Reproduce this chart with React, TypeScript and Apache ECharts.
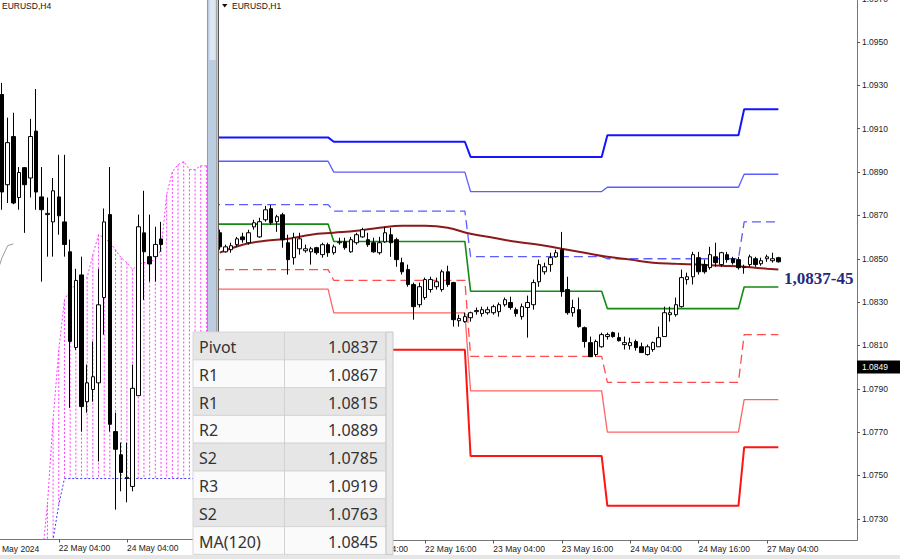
import React, { useEffect, useRef } from "react";
import * as echarts from "echarts";

// ---------- H1 panel (right) ----------
const h1DayDates = [21, 22, 23, 24, 27];
const h1FirstBar = 4;
// [open, close, low, high]
const h1Candles: number[][] = [
  [1.0862, 1.08555, 1.08542, 1.08634],
  [1.08532, 1.08555, 1.08528, 1.08565],
  [1.08542, 1.0856, 1.08528, 1.08574],
  [1.08565, 1.08592, 1.08555, 1.08601],
  [1.08601, 1.08588, 1.08574, 1.0862],
  [1.08574, 1.0862, 1.08565, 1.08634],
  [1.08647, 1.08666, 1.08634, 1.0868],
  [1.08601, 1.08671, 1.08597, 1.08689],
  [1.0868, 1.08726, 1.08671, 1.08744],
  [1.08731, 1.08666, 1.08657, 1.08749],
  [1.08671, 1.08694, 1.08624, 1.08703],
  [1.08703, 1.08588, 1.08551, 1.08712],
  [1.08574, 1.08496, 1.08427, 1.08611],
  [1.08505, 1.08597, 1.08473, 1.0862],
  [1.08546, 1.08592, 1.08519, 1.0862],
  [1.08537, 1.08546, 1.08528, 1.08565],
  [1.08532, 1.08546, 1.08473, 1.08555],
  [1.08551, 1.08528, 1.08519, 1.08555],
  [1.08519, 1.08565, 1.08505, 1.08574],
  [1.08565, 1.08528, 1.08509, 1.08574],
  [1.08528, 1.08555, 1.08519, 1.08565],
  [1.08574, 1.08578, 1.08565, 1.08597],
  [1.08578, 1.08551, 1.08542, 1.08597],
  [1.08532, 1.08588, 1.08528, 1.08601],
  [1.08574, 1.08611, 1.08565, 1.0862],
  [1.08601, 1.08634, 1.08597, 1.08643],
  [1.08588, 1.08565, 1.08555, 1.0862],
  [1.08574, 1.08532, 1.08528, 1.08597],
  [1.08528, 1.08574, 1.08519, 1.08601],
  [1.08578, 1.0862, 1.08574, 1.08647],
  [1.08611, 1.08574, 1.08509, 1.08643],
  [1.08588, 1.08496, 1.08463, 1.08597],
  [1.08482, 1.0844, 1.08427, 1.08505],
  [1.0845, 1.08381, 1.08371, 1.08473],
  [1.08381, 1.08279, 1.08219, 1.0839],
  [1.08288, 1.08371, 1.08275, 1.0839],
  [1.08321, 1.08404, 1.08311, 1.08413],
  [1.08358, 1.08404, 1.08344, 1.08417],
  [1.08371, 1.08394, 1.08358, 1.08413],
  [1.08358, 1.0844, 1.08348, 1.0845],
  [1.0844, 1.08381, 1.08371, 1.08468],
  [1.0839, 1.08219, 1.08187, 1.08394],
  [1.08214, 1.08224, 1.08187, 1.08242],
  [1.0821, 1.08233, 1.08205, 1.08251],
  [1.08228, 1.08251, 1.0821, 1.08256],
  [1.08256, 1.08261, 1.08242, 1.08275],
  [1.08247, 1.08265, 1.08233, 1.08279],
  [1.08251, 1.08265, 1.08242, 1.08279],
  [1.08251, 1.08279, 1.08242, 1.08288],
  [1.08256, 1.08288, 1.08233, 1.08298],
  [1.08288, 1.08311, 1.08279, 1.08321],
  [1.08298, 1.08275, 1.08265, 1.08325],
  [1.08265, 1.08247, 1.08233, 1.08275],
  [1.08233, 1.08279, 1.08219, 1.08293],
  [1.08275, 1.08298, 1.08136, 1.0833],
  [1.08288, 1.0839, 1.08265, 1.08404],
  [1.08394, 1.08473, 1.08371, 1.08496],
  [1.0844, 1.08463, 1.08427, 1.08482],
  [1.08473, 1.08505, 1.0844, 1.08528],
  [1.08509, 1.08528, 1.08505, 1.08542],
  [1.08542, 1.08348, 1.08325, 1.08624],
  [1.08358, 1.08251, 1.08242, 1.08417],
  [1.08251, 1.08275, 1.08233, 1.08311],
  [1.08265, 1.08187, 1.08182, 1.08321],
  [1.08182, 1.08118, 1.0809, 1.08187],
  [1.08113, 1.08048, 1.08048, 1.08141],
  [1.08058, 1.08118, 1.08048, 1.08127],
  [1.08094, 1.0815, 1.0809, 1.08159],
  [1.08141, 1.0815, 1.08127, 1.08159],
  [1.08159, 1.08141, 1.08136, 1.08164],
  [1.08136, 1.08122, 1.08118, 1.08159],
  [1.08104, 1.08113, 1.08081, 1.08141],
  [1.08099, 1.08113, 1.08081, 1.08136],
  [1.08118, 1.0809, 1.08076, 1.08127],
  [1.08094, 1.08067, 1.08067, 1.08113],
  [1.08058, 1.08094, 1.08053, 1.08104],
  [1.08081, 1.08113, 1.08071, 1.08118],
  [1.08094, 1.08136, 1.08094, 1.08187],
  [1.08141, 1.08251, 1.08141, 1.08279],
  [1.08242, 1.08251, 1.0821, 1.08279],
  [1.08242, 1.08288, 1.08233, 1.08321],
  [1.08279, 1.08413, 1.08275, 1.0845],
  [1.08404, 1.08417, 1.08381, 1.08436],
  [1.08417, 1.08519, 1.08381, 1.08532],
  [1.08505, 1.0844, 1.08427, 1.08532],
  [1.08473, 1.0844, 1.08431, 1.08496],
  [1.08459, 1.08519, 1.0845, 1.08555],
  [1.08509, 1.08482, 1.08463, 1.08574],
  [1.08473, 1.08528, 1.08463, 1.08532],
  [1.08519, 1.08496, 1.08482, 1.08532],
  [1.085, 1.08482, 1.08473, 1.08509],
  [1.08496, 1.08459, 1.0845, 1.08509],
  [1.08459, 1.08463, 1.08431, 1.08473],
  [1.08473, 1.08509, 1.08463, 1.08519],
  [1.085, 1.08473, 1.08463, 1.08509],
  [1.08477, 1.08491, 1.08468, 1.08505],
  [1.085, 1.08509, 1.08486, 1.08519],
  [1.08491, 1.085, 1.08482, 1.08528],
  [1.08505, 1.08486, 1.08482, 1.08509],
];
const maBars = [4, 8, 12, 16, 20, 24, 28, 32, 36, 40, 44, 48, 52, 56, 60, 64, 68, 72, 76, 80, 84, 88, 92, 96, 100, 102];
const maValues = [
  1.08528, 1.08565, 1.08583, 1.08592, 1.08611, 1.0862, 1.08629, 1.08643, 1.08652, 1.08652,
  1.08643, 1.08615, 1.08597, 1.08578, 1.08565, 1.08546, 1.08528, 1.08509, 1.08496, 1.08482,
  1.08477, 1.08473, 1.08468, 1.08463, 1.08454, 1.0845,
];
const dayStart = [0, 24, 48, 72, 96];
const dayEnd = [23, 47, 71, 95, 102];
const r3Levels = [1.0906, 1.0904, 1.0897, 1.0907, 1.0919];
const r2Levels = [1.0895, 1.089, 1.0881, 1.0883, 1.0889];
const r1Levels = [1.0875, 1.0872, 1.0851, 1.085, 1.0867];
const pivotLevels = [1.0866, 1.0858, 1.0835, 1.0827, 1.0837];
const s1Levels = [1.0845, 1.084, 1.0805, 1.0793, 1.0815];
const s2Levels = [1.0836, 1.0825, 1.0789, 1.077, 1.0785];
const s3Levels = [1.0808, 1.0808, 1.0759, 1.0736, 1.0763];
const h1TickBars = [28, 40, 52, 64, 76, 88, 100];
const priceTicks = [1.073, 1.075, 1.077, 1.079, 1.081, 1.083, 1.085, 1.087, 1.089, 1.091, 1.093, 1.095];
const lastPrice = 1.0849;
const zoneLabel = "1,0837-45";

// ---------- H4 panel (left) ----------
const h4Candles: number[][] = [
  [1.0873, 1.0857, 1.08541, 1.08749],
  [1.08582, 1.08651, 1.08552, 1.08692],
  [1.08661, 1.08552, 1.0855, 1.087],
  [1.08561, 1.08602, 1.08541, 1.08611],
  [1.0861, 1.08582, 1.08503, 1.08611],
  [1.08593, 1.08661, 1.08561, 1.0869],
  [1.0867, 1.0857, 1.08541, 1.08739],
  [1.08562, 1.08541, 1.08423, 1.08611],
  [1.08533, 1.08535, 1.08464, 1.08561],
  [1.08521, 1.08572, 1.08464, 1.08593],
  [1.08562, 1.08531, 1.085, 1.08631],
  [1.08521, 1.08484, 1.08464, 1.08631],
  [1.08472, 1.08325, 1.08216, 1.08492],
  [1.08315, 1.08425, 1.08311, 1.08444],
  [1.08434, 1.08218, 1.08177, 1.08464],
  [1.08226, 1.08257, 1.08208, 1.08287],
  [1.08246, 1.08267, 1.08226, 1.08325],
  [1.08257, 1.08385, 1.08128, 1.08444],
  [1.08397, 1.08521, 1.08336, 1.08543],
  [1.08533, 1.08189, 1.08177, 1.08611],
  [1.08177, 1.08148, 1.08049, 1.08208],
  [1.08139, 1.0811, 1.08079, 1.08159],
  [1.081, 1.08102, 1.08061, 1.08159],
  [1.08087, 1.08248, 1.08079, 1.08287],
  [1.08236, 1.08513, 1.08236, 1.08533],
  [1.08503, 1.08472, 1.08393, 1.08572],
  [1.08464, 1.08452, 1.08423, 1.08533],
  [1.08464, 1.08484, 1.08423, 1.08513],
  [1.08493, 1.08484, 1.08472, 1.08521],
];
const spanBars = [7, 8, 9, 10, 11, 12, 13, 14, 15, 16, 17, 18, 19, 20, 21, 22, 23, 24, 25, 26, 27, 28, 29, 30, 31, 32, 33, 34, 35, 36];
const spanA = [
  1.07967, 1.08057, 1.08197, 1.08311, 1.08393, 1.0841, 1.08418, 1.08423, 1.0843, 1.08467,
  1.085, 1.08495, 1.08487, 1.08475, 1.08462, 1.08454, 1.08443, 1.08451, 1.08454, 1.08456,
  1.08459, 1.08475, 1.08566, 1.08603, 1.08615, 1.0862, 1.08607, 1.08607, 1.08613, 1.08613,
];
const spanB = [
  1.079, 1.0793, 1.08, 1.08057, 1.081, 1.081, 1.081, 1.081, 1.081, 1.081,
  1.081, 1.081, 1.081, 1.081, 1.081, 1.081, 1.081, 1.081, 1.081, 1.081,
  1.081, 1.081, 1.081, 1.081, 1.081, 1.081, 1.081, 1.081, 1.081, 1.081,
];
const chikouBars = [-1, 0, 1, 2];
const chikouValues = [1.08434, 1.08462, 1.08482, 1.08485];
const h4TickBars = [10, 22];
const h4TickLabels = ["22 May 04:00", "24 May 04:00"];

// ---------- Levels table ----------
const tableLabels = ["Pivot", "R1", "R1", "R2", "S2", "R3", "S2", "MA(120)"];
const tableValues = ["1.0837", "1.0867", "1.0815", "1.0889", "1.0785", "1.0919", "1.0763", "1.0845"];

const AX_FONT = "Liberation Sans";

function levelPath(levels: number[]) {
  const pts: number[][] = [];
  levels.forEach((lv, d) => {
    pts.push([dayStart[d], lv]);
    pts.push([dayEnd[d], lv]);
  });
  return pts;
}

function h1Label(v: number) {
  const d = Math.floor(v / 24);
  const h = Math.round(v - d * 24);
  return `${h1DayDates[d]} May ${String(h).padStart(2, "0")}:00`;
}

function levelSeries(name: string, levels: number[], color: string, width: number, dashed: boolean) {
  return {
    name,
    type: "line",
    xAxisIndex: 1,
    yAxisIndex: 1,
    data: levelPath(levels),
    symbol: "none",
    silent: true,
    z: 3,
    lineStyle: { color, width, type: dashed ? [9, 5] : "solid" },
  };
}

export default function App() {
  const ref = useRef<HTMLDivElement>(null);
  useEffect(() => {
    if (!ref.current) return;
    const chart = echarts.init(ref.current, undefined, { renderer: "svg" });

    const rowTop = 332;
    const rowH = 27.8;
    const TZ = 200;
    const tableChildren: any[] = [];
    tableLabels.forEach((lab, k) => {
      const y = rowTop + k * rowH;
      tableChildren.push({
        type: "rect",
        z: TZ,
        shape: { x: 193, y, width: 193, height: rowH },
        style: { fill: k % 2 === 0 ? "#e6e6e6" : "#fafafa", stroke: "#d6d6d6", lineWidth: 1 },
      });
      tableChildren.push({
        type: "text",
        z: TZ + 2,
        style: { text: lab, x: 199, y: y + rowH / 2 + 1, font: '16px "Noto Sans"', fill: "#333", verticalAlign: "middle" },
      });
      tableChildren.push({
        type: "text",
        z: TZ + 2,
        style: { text: tableValues[k], x: 378, y: y + rowH / 2 + 1, font: '16px "Noto Sans"', fill: "#333", align: "right", verticalAlign: "middle" },
      });
    });
    tableChildren.push({
      type: "line",
      z: TZ + 1,
      shape: { x1: 284.5, y1: rowTop, x2: 284.5, y2: rowTop + rowH * 8 },
      style: { stroke: "#d2d2d2", lineWidth: 1 },
    });
    tableChildren.push({
      type: "rect",
      z: TZ + 1,
      shape: { x: 386, y: rowTop, width: 7, height: rowH * 8 },
      style: { fill: "#e9e9e9", stroke: "#c8c8c8", lineWidth: 1 },
    });

    const option: any = {
      animation: false,
      backgroundColor: "#ffffff",
      grid: [
        { left: 0, top: 0, width: 207, height: 539.5, containLabel: false, outerBoundsMode: "none" },
        { left: 219, top: 0, width: 638, height: 540.5, containLabel: false, outerBoundsMode: "none" },
      ],
      xAxis: [
        {
          type: "value",
          gridIndex: 0,
          min: -0.35,
          max: 36.1,
          axisLine: { show: true, onZero: false, lineStyle: { color: "#777", width: 1 } },
          axisTick: { show: true, customValues: h4TickBars, length: 3, lineStyle: { color: "#555" } },
          axisLabel: {
            show: true,
            customValues: h4TickBars,
            formatter: (v: number) => h4TickLabels[h4TickBars.indexOf(Math.round(v))] || "",
            align: "left",
            margin: 4,
            fontSize: 8.5,
            fontFamily: AX_FONT,
            color: "#222",
          },
          splitLine: { show: false },
        },
        {
          type: "value",
          gridIndex: 1,
          min: 3.86,
          max: 115.8,
          axisLine: { show: true, onZero: false, lineStyle: { color: "#777", width: 1 } },
          axisTick: { show: true, customValues: h1TickBars, length: 3, lineStyle: { color: "#555" } },
          axisLabel: {
            show: true,
            customValues: h1TickBars,
            formatter: (v: number) => h1Label(v),
            align: "left",
            margin: 4,
            fontSize: 8.5,
            fontFamily: AX_FONT,
            color: "#222",
          },
          splitLine: { show: false },
        },
      ],
      yAxis: [
        { type: "value", gridIndex: 0, min: 1.08, max: 1.08885, show: false, splitLine: { show: false } },
        {
          type: "value",
          gridIndex: 1,
          position: "right",
          min: 1.072,
          max: 1.09694,
          axisLine: { show: true, onZero: false, lineStyle: { color: "#777", width: 1 } },
          axisTick: { show: true, customValues: priceTicks, length: 3, lineStyle: { color: "#555" } },
          axisLabel: {
            show: true,
            customValues: priceTicks,
            formatter: (v: number) => v.toFixed(4),
            margin: 5,
            fontSize: 8.5,
            fontFamily: AX_FONT,
            color: "#222",
          },
          splitLine: { show: false },
        },
      ],
      series: [
        // Ichimoku cloud hatching (H4)
        {
          type: "custom",
          xAxisIndex: 0,
          yAxisIndex: 0,
          silent: true,
          clip: true,
          z: 1,
          encode: { x: 0, y: [1, 2] },
          data: spanBars.map((b, k) => [b, spanA[k], spanB[k]]),
          renderItem: (params: any, api: any) => {
            const p1 = api.coord([api.value(0), api.value(1)]);
            const p2 = api.coord([api.value(0), api.value(2)]);
            const cs = params.coordSys;
            const lo = cs.y;
            const hi = cs.y + cs.height;
            const y1 = Math.max(lo, Math.min(hi, p1[1]));
            const y2 = Math.max(lo, Math.min(hi, p2[1]));
            if (Math.abs(y2 - y1) < 0.5) return null;
            return {
              type: "line",
              shape: { x1: p1[0], y1, x2: p2[0], y2 },
              style: { stroke: "#ff3cff", lineWidth: 1, lineDash: [2, 2] },
            };
          },
        },
        {
          type: "line",
          xAxisIndex: 0,
          yAxisIndex: 0,
          data: spanBars.map((b, k) => [b, spanA[k]]),
          symbol: "none",
          silent: true,
          z: 2,
          lineStyle: { color: "#ff3cff", width: 1, type: [2, 2] },
        },
        {
          type: "line",
          xAxisIndex: 0,
          yAxisIndex: 0,
          data: spanBars.map((b, k) => [b, spanB[k]]),
          symbol: "none",
          silent: true,
          z: 2,
          lineStyle: { color: "#3c3cff", width: 1, type: [2, 2] },
        },
        {
          type: "line",
          xAxisIndex: 0,
          yAxisIndex: 0,
          data: chikouBars.map((b, k) => [b, chikouValues[k]]),
          symbol: "none",
          silent: true,
          z: 2,
          lineStyle: { color: "#9a9a9a", width: 1 },
        },
        {
          type: "candlestick",
          xAxisIndex: 0,
          yAxisIndex: 0,
          silent: true,
          z: 5,
          barWidth: 4,
          data: h4Candles.map((c, k) => [k, c[0], c[1], c[2], c[3]]),
          itemStyle: { color: "#ffffff", color0: "#000000", borderColor: "#000000", borderColor0: "#000000", borderWidth: 1 },
        },
        // H1 pivot levels
        levelSeries("R3", r3Levels, "#1414ff", 2, false),
        levelSeries("R2", r2Levels, "#5c5cff", 1.3, false),
        levelSeries("R1", r1Levels, "#5c5cff", 1.3, true),
        levelSeries("Pivot", pivotLevels, "#148a14", 1.6, false),
        levelSeries("S1", s1Levels, "#ff4d4d", 1.3, true),
        levelSeries("S2", s2Levels, "#ff6464", 1.3, false),
        levelSeries("S3", s3Levels, "#ff1414", 2, false),
        {
          name: "MA(120)",
          type: "line",
          xAxisIndex: 1,
          yAxisIndex: 1,
          data: maBars.map((b, k) => [b, maValues[k]]),
          symbol: "none",
          smooth: 0.4,
          silent: true,
          z: 3,
          lineStyle: { color: "#8b1a1a", width: 2 },
        },
        {
          type: "candlestick",
          xAxisIndex: 1,
          yAxisIndex: 1,
          silent: true,
          z: 5,
          barWidth: 4,
          data: h1Candles.map((c, k) => [h1FirstBar + k, c[0], c[1], c[2], c[3]]),
          itemStyle: { color: "#ffffff", color0: "#000000", borderColor: "#000000", borderColor0: "#000000", borderWidth: 1 },
          markLine: {
            silent: true,
            symbol: ["none", "none"],
            data: [{ yAxis: lastPrice }],
            lineStyle: { color: "rgba(0,0,0,0)", width: 0 },
            label: {
              show: true,
              position: "end",
              distance: 0,
              formatter: lastPrice.toFixed(4),
              backgroundColor: "#000",
              color: "#fff",
              fontSize: 8.5,
              fontFamily: AX_FONT,
              padding: [2, 12, 2, 5],
            },
          },
        },
      ],
      graphic: [
        // panel separator
        { type: "rect", z: 50, shape: { x: 207, y: 0, width: 11, height: 541 }, style: { fill: "#bccde1" } },
        { type: "rect", z: 51, shape: { x: 209.5, y: 0, width: 6, height: 60 }, style: { fill: "#dde7f2" } },
        { type: "line", z: 52, shape: { x1: 207.5, y1: 0, x2: 207.5, y2: 541 }, style: { stroke: "#9a9a9a", lineWidth: 1 } },
        { type: "line", z: 52, shape: { x1: 216.5, y1: 0, x2: 216.5, y2: 541 }, style: { stroke: "#a5a5a5", lineWidth: 1 } },
        { type: "line", z: 52, shape: { x1: 218.5, y1: 0, x2: 218.5, y2: 541 }, style: { stroke: "#555", lineWidth: 1 } },
        // titles
        { type: "text", z: 60, style: { text: "EURUSD,H4", x: 2, y: 6, font: `8.5px "${AX_FONT}"`, fill: "#111", verticalAlign: "middle" } },
        { type: "polygon", z: 60, shape: { points: [[222, 4], [227.5, 4], [224.75, 7.5]] }, style: { fill: "#111" } },
        { type: "text", z: 60, style: { text: "EURUSD,H1", x: 232, y: 6, font: `8.5px "${AX_FONT}"`, fill: "#111", verticalAlign: "middle" } },
        { type: "text", z: 60, style: { text: "May 2024", x: 2, y: 549, font: `8.5px "${AX_FONT}"`, fill: "#222", verticalAlign: "middle" } },
        { type: "text", z: 60, style: { text: "1.0970", x: 862, y: -1, font: `8.5px "${AX_FONT}"`, fill: "#222", verticalAlign: "middle" } },
        // zone annotation
        { type: "text", z: 60, style: { text: zoneLabel, x: 784, y: 278, font: 'bold 17px "Liberation Serif"', fill: "#1f2a80", verticalAlign: "middle" } },
        // bottom strip
        { type: "rect", z: 40, shape: { x: 0, y: 555, width: 900, height: 4 }, style: { fill: "#e6e6e6" } },
        // levels table
        { type: "group", z: TZ, children: tableChildren },
      ],
    };
    chart.setOption(option);
    return () => chart.dispose();
  }, []);
  return <div ref={ref} style={{ position: "fixed", left: 0, top: 0, width: 900, height: 559 }} />;
}
